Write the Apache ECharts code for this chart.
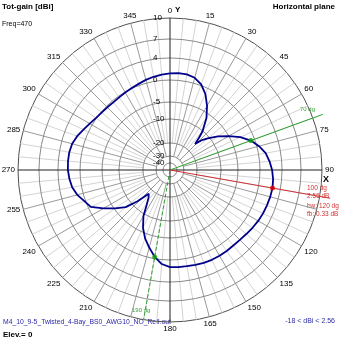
<!DOCTYPE html>
<html><head><meta charset="utf-8">
<script src="https://cdn.jsdelivr.net/npm/echarts@6/dist/echarts.min.js"></script>
<style>html,body{margin:0;padding:0;background:#fff}#c{width:339px;height:339px}</style>
</head><body><div id="c"></div><script>
// Gain rings of the log scale (dBi) and their labels
const ringDb = [10, 7, 4, 0, -5, -10, -20, -30, -40];
// Azimuth pattern: compass angle (deg) and total gain (dBi)
const azimuth = [0,5,10,15,20,25,30,35,40,42,44,47,50,55,60,65,70,75,80,85,90,95,100,105,110,115,120,125,130,135,140,145,150,155,160,165,170,175,180,185,190,195,200,205,210,214,218,222,226,230,235,240,245,250,255,260,265,270,275,280,285,290,295,300,305,310,315,320,325,330,335,340,345,350,355,360];
const gainDbi = [1.2,1.3,1.3,1.0,0.2,-1.4,-3.6,-6.3,-10.2,-13.2,-16.2,-13.0,-10.8,-7.8,-5.1,-2.8,-0.9,0.4,1.3,1.8,2.2,2.45,2.56,2.5,2.4,2.3,2.15,1.95,1.75,1.6,1.55,1.6,1.65,1.65,1.6,1.5,1.4,1.35,1.3,0.8,-0.4,-2.2,-3.9,-6.2,-9.4,-14.0,-16.8,-18.0,-12.5,-8.0,-5.3,-3.0,-0.6,0.2,1.1,1.7,2.0,2.2,2.25,2.23,2.05,1.6,1.0,0.5,0.1,-0.15,-0.3,-0.4,-0.3,-0.1,0.1,0.3,0.6,0.85,1.05,1.2];
// Angle tick labels (the ones next to the marker notes are left out)
const angleTicks = [0,15,30,45,60,75,90,120,135,150,165,180,210,225,240,255,270,285,300,315,330,345];
// Main lobe summary
const peakAngle = 100, peakGain = 2.56;
const beamEdges = [70, 190];
const beamWidth = 120, frontBack = 0.33;
const freqMHz = 470, elevation = 0, minGain = -18;
const fileName = 'M4_10_9-5_Twisted_4-Bay_BS0_AWG10_NO_Refl.out';

// ARRL-style log radius scale, tabulated per ring (fraction of outer radius)
const scaleDb = [10, 7, 4, 0, -5, -10, -20, -30, -40, -60];
const scaleR  = [1.0, 0.862, 0.737, 0.592, 0.447, 0.336, 0.178, 0.092, 0.046, 0];
function rOf(db) {
  if (db >= scaleDb[0]) return 1;
  for (let i = 0; i < scaleDb.length - 1; i++) {
    if (db <= scaleDb[i] && db >= scaleDb[i + 1]) {
      const t = (scaleDb[i] - db) / (scaleDb[i] - scaleDb[i + 1]);
      return scaleR[i] + t * (scaleR[i + 1] - scaleR[i]);
    }
  }
  return 0;
}
function gainAt(a) { return gainDbi[azimuth.indexOf(a)]; }

const FONT = 'Liberation Sans, Arial, sans-serif';
const chart = echarts.init(document.getElementById('c'), null, {renderer: 'canvas'});

const minorAngles = [], majorAngles = [];
for (let a = 0; a < 360; a += 5) {
  if (a % 90 === 0) continue;
  (a % 15 === 0 ? majorAngles : minorAngles).push(a);
}

function radialSeries(list, rIn, rOut, color, width, dash, z) {
  return {
    type: 'custom', coordinateSystem: 'polar', silent: true, z: z,
    data: list.map(a => [rOut, a]),
    renderItem: (p, api) => {
      const a = api.value(1);
      const p0 = api.coord([rIn, a]), p1 = api.coord([rOut, a]);
      return {type: 'line', shape: {x1: p0[0], y1: p0[1], x2: p1[0], y2: p1[1]},
        style: {stroke: color, lineWidth: width, lineDash: dash || null}};
    }
  };
}

const option = {
  animation: false,
  backgroundColor: '#fff',
  polar: {center: [170, 170], radius: 152},
  angleAxis: {
    type: 'value', min: 0, max: 360, interval: 15, startAngle: 90, clockwise: true,
    axisLine: {show: true, lineStyle: {color: '#505050', width: 1}},
    axisTick: {show: false},
    splitLine: {show: false},
    axisLabel: {
      margin: 3, color: '#000', fontSize: 8, fontFamily: FONT,
      formatter: v => (angleTicks.indexOf(v) >= 0 ? String(v) : '')
    }
  },
  radiusAxis: {
    type: 'value', min: 0, max: 1,
    axisLine: {show: false}, axisTick: {show: false}, axisLabel: {show: false}, splitLine: {show: false}
  },
  series: [
    // minor and major azimuth grid lines
    radialSeries(minorAngles, rOf(-20), 1, '#d4d4d4', 1, null, 1),
    radialSeries(majorAngles, rOf(-30), 1, '#9a9a9a', 1, null, 2),
    // gain rings
    {
      type: 'custom', coordinateSystem: 'polar', silent: true, z: 3,
      data: ringDb.slice(1).map(d => [rOf(d), 0]),
      renderItem: (p, api) => {
        const c = api.coord([0, 0]), q = api.coord([api.value(0), 0]);
        return {type: 'circle', shape: {cx: c[0], cy: c[1], r: Math.abs(c[1] - q[1])},
          style: {fill: null, stroke: '#8a8a8a', lineWidth: 1}};
      }
    },
    // X / Y axes
    radialSeries([0, 90, 180, 270], 0, 1, '#202020', 1, null, 4),
    // ring labels along the 0 deg direction
    {
      type: 'custom', coordinateSystem: 'polar', silent: true, z: 5,
      data: ringDb.map(d => [rOf(d), 0, d]),
      renderItem: (p, api) => {
        const q = api.coord([api.value(0), 0]);
        return {type: 'text', x: q[0] - 17, y: q[1],
          style: {text: String(api.value(2)), fill: '#000', fontSize: 8, fontFamily: FONT,
            align: 'left', verticalAlign: 'middle'}};
      }
    },
    // beamwidth edges and peak direction
    radialSeries([beamEdges[0]], 0, 1.07, '#30a030', 1, null, 6),
    radialSeries([beamEdges[1]], 0, 1.0, '#30a030', 1, [4, 2], 6),
    radialSeries([peakAngle], 0, 1.07, '#d03030', 1, null, 6),
    // pattern
    {
      type: 'line', coordinateSystem: 'polar', z: 10, symbol: 'none', smooth: false, clip: false,
      data: azimuth.map((a, i) => [rOf(gainDbi[i]), a]),
      lineStyle: {color: '#00008c', width: 1.8}
    },
    {
      type: 'scatter', coordinateSystem: 'polar', z: 11, symbol: 'circle', symbolSize: 5,
      data: beamEdges.map(a => [rOf(gainAt(a)), a]),
      itemStyle: {color: '#10a010'}
    },
    {
      type: 'scatter', coordinateSystem: 'polar', z: 11, symbol: 'circle', symbolSize: 5,
      data: [[rOf(peakGain), peakAngle]],
      itemStyle: {color: '#e00000'}
    }
  ],
  graphic: [
    {type: 'text', left: 2, top: 3, style: {text: 'Tot-gain [dBi]', font: 'bold 8px ' + FONT, fill: '#000'}},
    {type: 'text', left: 2, top: 21, style: {text: 'Freq=' + freqMHz, font: '7px ' + FONT, fill: '#000'}},
    {type: 'text', right: 4, top: 3, style: {text: 'Horizontal plane', font: 'bold 8px ' + FONT, fill: '#000'}},
    {type: 'text', left: 175, top: 6, style: {text: 'Y', font: 'bold 8px ' + FONT, fill: '#000'}},
    {type: 'text', left: 323, top: 175, style: {text: 'X', font: 'bold 9px ' + FONT, fill: '#000'}},
    {type: 'text', left: 300, top: 106, style: {text: beamEdges[0] + ' dg', font: '6px ' + FONT, fill: '#30a030'}},
    {type: 'text', left: 132, top: 307, style: {text: beamEdges[1] + ' dg', font: '6px ' + FONT, fill: '#30a030'}},
    {type: 'text', left: 307, top: 185, style: {text: peakAngle + ' dg', font: '6.5px ' + FONT, fill: '#d03030'}},
    {type: 'text', left: 307, top: 193, style: {text: peakGain.toFixed(2) + ' dB', font: '6.5px ' + FONT, fill: '#d03030'}},
    {type: 'text', left: 307, top: 203, style: {text: 'bw: ' + beamWidth + ' dg', font: '6.5px ' + FONT, fill: '#d03030'}},
    {type: 'text', left: 307, top: 211, style: {text: 'fb: ' + frontBack.toFixed(2) + ' dB', font: '6.5px ' + FONT, fill: '#d03030'}},
    {type: 'text', left: 3, top: 319, style: {text: fileName, font: '6.8px ' + FONT, fill: '#2a2aa8'}},
    {type: 'text', left: 3, top: 331, style: {text: 'Elev.= ' + elevation, font: 'bold 8px ' + FONT, fill: '#000'}},
    {type: 'text', right: 4, top: 318, style: {text: minGain + ' < dBi < ' + peakGain.toFixed(2), font: '7px ' + FONT, fill: '#2a2aa8'}}
  ]
};
chart.setOption(option);
</script></body></html>
